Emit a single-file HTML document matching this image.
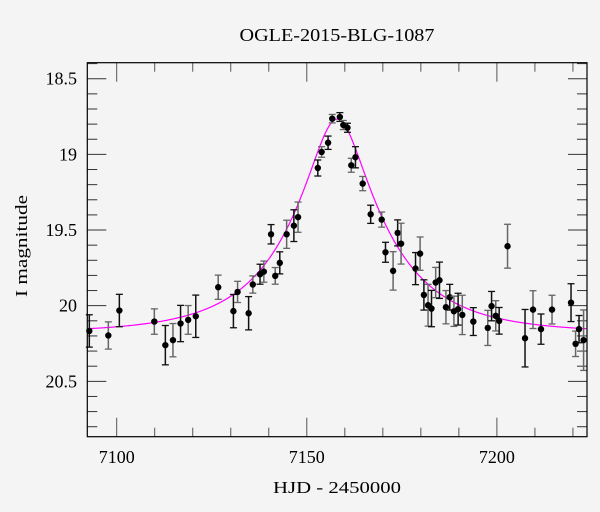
<!DOCTYPE html>
<html><head><meta charset="utf-8"><style>
body{margin:0;background:#f4f4f4;}
svg{display:block;font-family:"Liberation Serif","DejaVu Serif",serif;}
</style></head><body>
<svg id="c" width="600" height="512" viewBox="0 0 600 512">
<rect width="600" height="512" fill="#f4f4f4"/>
<text x="337" y="41" font-size="18" text-anchor="middle" textLength="195" lengthAdjust="spacingAndGlyphs" fill="#000">OGLE-2015-BLG-1087</text>
<text x="337" y="493" font-size="17" text-anchor="middle" textLength="128" lengthAdjust="spacingAndGlyphs" fill="#000">HJD - 2450000</text>
<text transform="translate(27,246) rotate(-90)" font-size="17" text-anchor="middle" textLength="102" lengthAdjust="spacingAndGlyphs" fill="#000">I magnitude</text>
<g id="ticks"></g><g id="curve"></g><g id="pts"></g>
<rect x="87.3" y="62.7" width="499.7" height="374" fill="none" stroke="#000" stroke-width="1.2"/>
</svg>
<script>
const hjd=[7092.8,7097.8,7100.7,7109.9,7112.8,7114.8,7116.8,7118.8,7120.8,7126.7,7130.7,7131.8,7134.7,7135.8,7137.7,7138.7,7140.6,7141.7,7142.9,7144.7,7146.6,7147.7,7152.9,7153.9,7155.6,7156.7,7158.7,7159.6,7160.7,7161.7,7162.8,7164.7,7166.8,7169.7,7170.7,7172.7,7173.9,7174.8,7178.6,7179.8,7180.8,7181.9,7182.8,7183.9,7184.9,7186.6,7187.6,7188.7,7189.8,7190.9,7193.8,7197.6,7198.6,7199.7,7200.6,7202.8,7207.4,7209.5,7211.6,7214.5,7219.5,7220.7,7221.6,7222.8];
const mag=[20.167,20.197,20.032,20.105,20.261,20.228,20.118,20.094,20.07,19.878,20.036,19.909,20.05,19.86,19.792,19.775,19.528,19.803,19.717,19.528,19.471,19.415,19.09,18.984,18.923,18.764,18.753,18.806,18.824,19.072,19.019,19.193,19.396,19.431,19.647,19.77,19.519,19.59,19.755,19.656,19.929,19.997,20.019,19.847,19.832,20.01,19.944,20.037,20.023,20.061,20.105,20.147,20.003,20.067,20.1,19.607,20.215,20.026,20.155,20.026,19.98,20.252,20.155,20.228];
const magErr=[0.107,0.09,0.107,0.084,0.13,0.11,0.12,0.095,0.14,0.08,0.11,0.07,0.11,0.057,0.066,0.07,0.064,0.055,0.073,0.093,0.105,0.1,0.053,0.035,0.044,0.028,0.029,0.03,0.03,0.046,0.07,0.047,0.06,0.05,0.066,0.127,0.086,0.135,0.106,0.11,0.1,0.138,0.12,0.1,0.12,0.11,0.085,0.1,0.105,0.13,0.092,0.116,0.097,0.1,0.088,0.145,0.19,0.125,0.1,0.095,0.125,0.084,0.09,0.2];
const xTicks=[7100,7150,7200];
const yTicks=[18.5,19,19.5,20,20.5];
const model={t0:7158,u0:0.28,tE:25,m0:20.18};
const X0=87.3,X1=587,Y0=62.7,Y1=436.7,xmin=7092.27,xmax=7223.7,ymin=18.394,ymax=20.866;
const sx=v=>X0+(v-xmin)/(xmax-xmin)*(X1-X0);
const sy=v=>Y0+(v-ymin)/(ymax-ymin)*(Y1-Y0);
const NS='http://www.w3.org/2000/svg';
function mk(t,a,p){const e=document.createElementNS(NS,t);for(const k in a)e.setAttribute(k,a[k]);p.appendChild(e);return e;}
const tg=document.getElementById('ticks');
for(let v=7100;v<=xmax;v+=10){const maj=(v%50===0);const L=maj?19:9;const x=sx(v);
 const t1=mk('line',{x1:x,x2:x,y1:Y1,y2:Y1-L,stroke:'#555','stroke-width':1},tg);
 
 const t2=mk('line',{x1:x,x2:x,y1:Y0,y2:Y0+L,stroke:'#555','stroke-width':1},tg);
 }
for(let i=0;i<=24;i++){const v=18.4+i*0.1;if(v>ymax)break;const maj=Math.abs(v*2-Math.round(v*2))<1e-6;const L=maj?19:10;const y=sy(v);
 const t1=mk('line',{x1:X0,x2:X0+L,y1:y,y2:y,stroke:'#333','stroke-width':1},tg);
 
 const t2=mk('line',{x1:X1,x2:X1-L,y1:y,y2:y,stroke:'#333','stroke-width':1},tg);
 }
xTicks.forEach(v=>{const t=mk('text',{x:sx(v),y:463,'font-size':18,'text-anchor':'middle'},tg);t.textContent=v;
 });
yTicks.forEach(v=>{const t=mk('text',{x:77,y:sy(v)+6,'font-size':18,'text-anchor':'end'},tg);t.textContent=v;
 });
let d='';for(let px=X0;px<=X1;px+=1){const t=xmin+(px-X0)/(X1-X0)*(xmax-xmin);const tau=(t-model.t0)/model.tE;const u=Math.sqrt(model.u0*model.u0+tau*tau);
 const A=(u*u+2)/(u*Math.sqrt(u*u+4));const m=model.m0-2.5*Math.log10(A);d+=(d?'L':'M')+px.toFixed(1)+' '+sy(m).toFixed(2);}
const cv=mk('path',{d:d,fill:'none',stroke:'#ff00ff','stroke-width':1.2},document.getElementById('curve'));

const pg=document.getElementById('pts');
hjd.forEach((t,i)=>{const x=sx(t),y=sy(mag[i]),ya=sy(mag[i]-magErr[i]),yb=sy(mag[i]+magErr[i]);
 const c=i%2?'#666':'#111';
 const g=mk('g',{},pg);
 mk('line',{x1:x,x2:x,y1:ya,y2:yb,stroke:c,'stroke-width':1.5},g);
 mk('line',{x1:x-3.5,x2:x+3.5,y1:ya,y2:ya,stroke:c,'stroke-width':1.3},g);
 mk('line',{x1:x-3.5,x2:x+3.5,y1:yb,y2:yb,stroke:c,'stroke-width':1.3},g);
 mk('circle',{cx:x,cy:y,r:3.2,fill:'#000'},g);});
</script>
</body></html>
